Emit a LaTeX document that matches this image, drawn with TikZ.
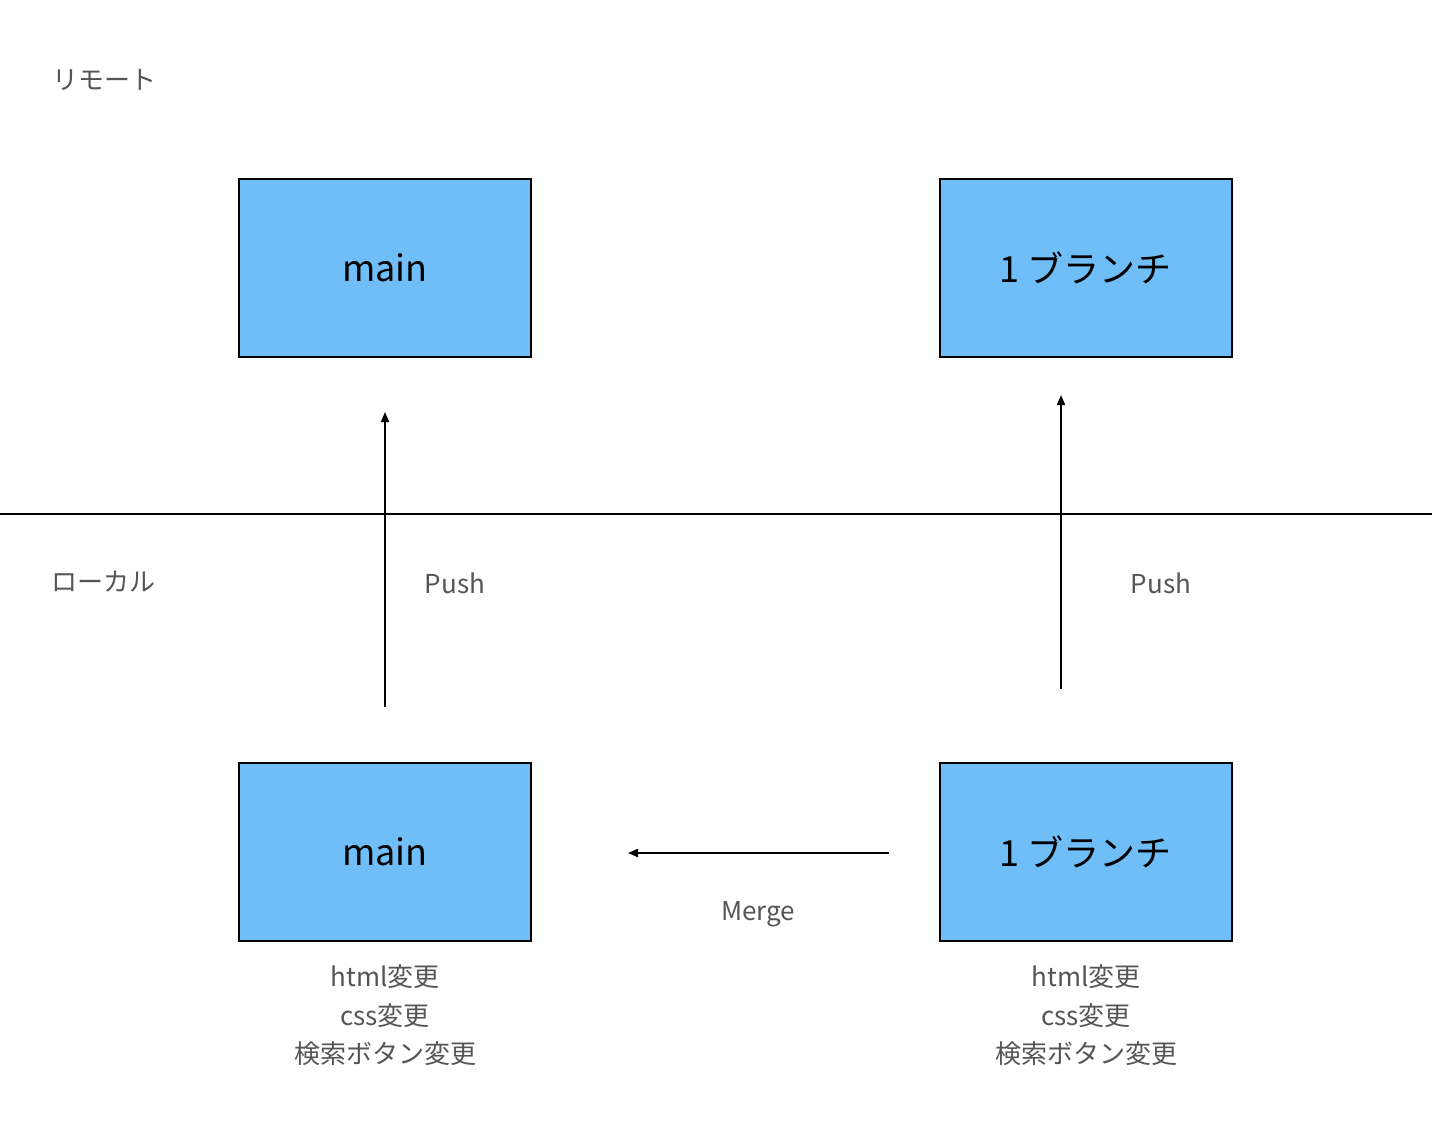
\documentclass[tikz,border=0pt]{standalone}
\usepackage{fontspec}
\setmainfont{Noto Sans CJK JP}
\usetikzlibrary{arrows.meta}

\tikzset{every picture/.style={line width=0.75pt}}
\definecolor{branchblue}{RGB}{112,190,248}
\definecolor{labelgray}{RGB}{85,85,85}
\tikzset{
  branchbox/.style={draw=black, line width=1.5pt, fill=branchblue, minimum width=219pt, minimum height=133.5pt, inner sep=0pt, font=\fontsize{27}{32}\selectfont},
  graylabel/.style={text=labelgray, inner sep=0.75pt, font=\fontsize{19.5}{29}\selectfont},
  flow/.style={line width=1.5pt, -{Triangle[length=7.5pt,width=6pt]}}
}

\begin{document}
\begin{tikzpicture}[x=0.75pt,y=0.75pt,yscale=-1,xscale=1]
\useasboundingbox (0,0) rectangle (1432,1134);

% Boxes
\node [branchbox] (rmain) at (385,268) {main};
\node [branchbox] (rbranch) at (1085.5,268) {1 ブランチ};
\node [branchbox] (lmain) at (385,851.5) {main};
\node [branchbox] (lbranch) at (1085.5,851.5) {1 ブランチ};

% Divider
\coordinate (divl) at (0,514);
\coordinate (divr) at (1432,514);
\draw [line width=1.5pt] (divl) -- (divr);

% Arrow ends
\coordinate (pushmainfrom) at (385,707);
\coordinate (pushmainto) at (385,412);
\coordinate (pushbranchfrom) at (1061,689);
\coordinate (pushbranchto) at (1061,395);
\coordinate (mergefrom) at (889,853);
\coordinate (mergeto) at (628,853);

\draw [flow] (pushmainfrom) -- (pushmainto);
\draw [flow] (pushbranchfrom) -- (pushbranchto);
\draw [flow] (mergefrom) -- (mergeto);

% Text Node
\node [graylabel, anchor=west] (remote) at (51,80) {リモート};
\node [graylabel, anchor=west] (local) at (50,582) {ローカル};
\node [graylabel] (pushmain) at (455,583) {Push};
\node [graylabel] (pushbranch) at (1161,583) {Push};
\node [graylabel] (merge) at (758,914) {Merge};
\node [graylabel, align=center, anchor=north] (mainchanges) at (385,963) {html変更\\css変更\\検索ボタン変更};
\node [graylabel, align=center, anchor=north] (branchchanges) at (1086,963) {html変更\\css変更\\検索ボタン変更};

\end{tikzpicture}
\end{document}
